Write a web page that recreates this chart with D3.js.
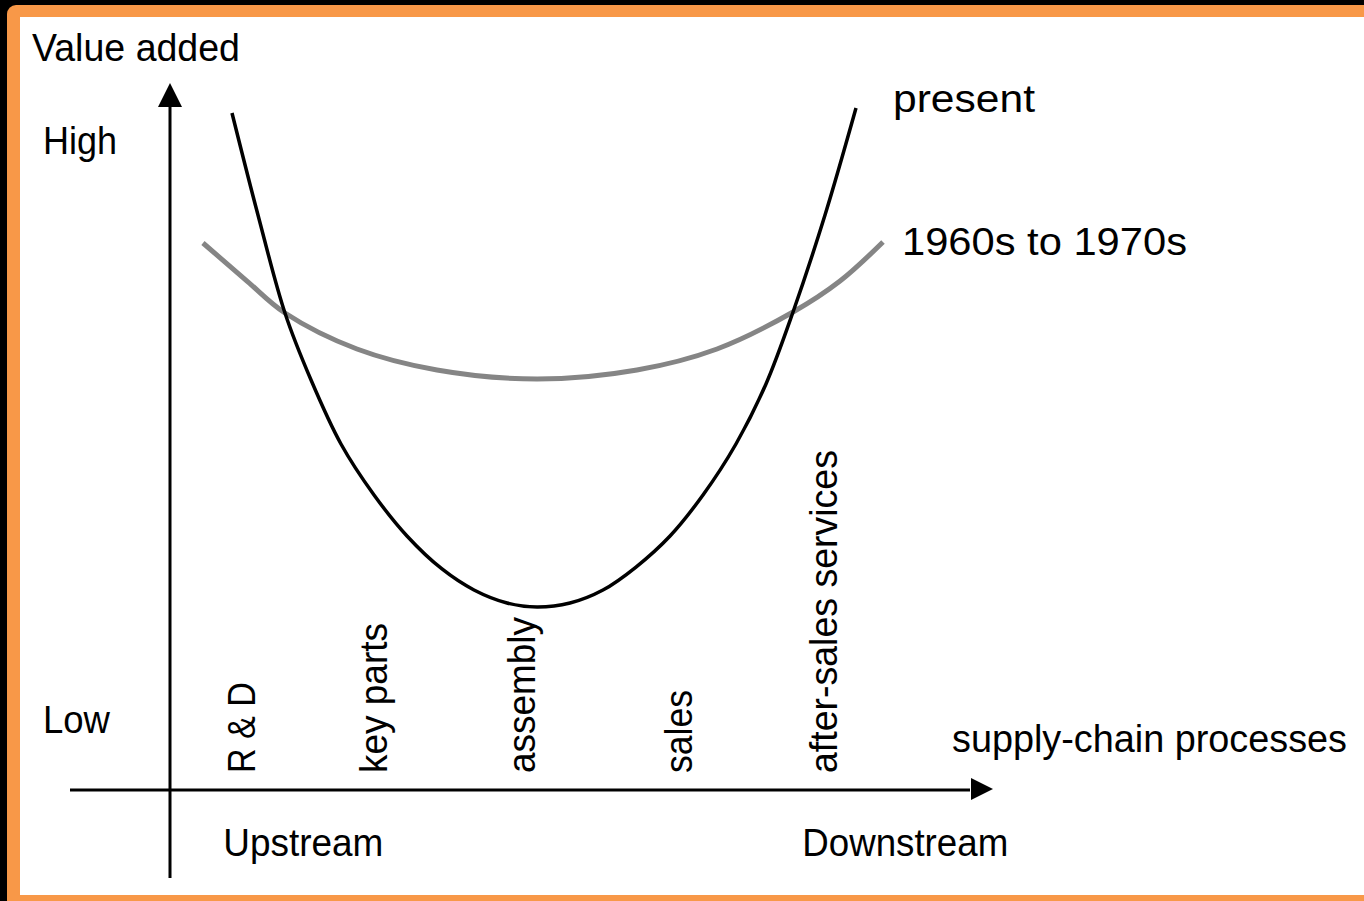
<!DOCTYPE html>
<html lang="en">
<head>
    <meta charset="UTF-8">
    <script src="https://d3js.org/d3.v7.min.js"></script>
    <title>Smile curve - value added along the supply chain</title>
    <style>
        body { margin: 0; background: #000; }
        svg { display: block; }
        text { font-family: "Liberation Sans", Arial, sans-serif; fill: #000; }
    </style>
</head>
<body>
    <figure style="margin:0"></figure>
    <script>
        // data (x: position along the chain 0-100, y: value added 0-100)
        const stages = ["R & D", "key parts", "assembly", "sales", "after-sales services"];
        const stagePos = [10.4, 26.5, 44.5, 63.7, 81.3];

        const presentX = [7.56, 10.73, 14.02, 17.20, 20.85, 24.88, 28.90, 33.17, 37.07, 41.10, 44.76,
                          48.78, 52.80, 56.83, 60.98, 65.00, 69.02, 72.68, 75.98, 79.88, 83.66];
        const presentY = [95.76, 81.33, 67.47, 57.99, 48.94, 41.73, 35.93, 31.26, 28.29, 26.45, 25.88,
                          26.45, 28.29, 31.54, 35.93, 41.73, 48.94, 57.43, 67.61, 81.33, 96.46];

        const pastX = [4.02, 9.39, 14.02, 22.80, 32.56, 44.76, 56.95, 66.71, 75.98, 81.71, 86.95];
        const pastY = [77.37, 71.99, 67.47, 62.38, 59.41, 58.13, 59.41, 62.38, 67.61, 71.99, 77.51];

        const seriesNames = ["present", "1960s to 1970s"];
        const levelLabels = ["High", "Low"];
        const levelValues = [89.9, 8.1];
        const streamLabels = ["Upstream", "Downstream"];
        const streamPos = [6.5, 77.1];

        //declare variables
        const w = 1364;
        const h = 901;

        const xScale = d3.scaleLinear().domain([0, 100]).range([170, 990]);
        const yScale = d3.scaleLinear().domain([0, 100]).range([790, 83]);

        const graph = d3.select("figure")
            .append("svg")
            .attr("width", w)
            .attr("height", h);

        //frame: black edge, orange border, white panel
        graph.append("rect").attr("width", w).attr("height", h).attr("fill", "#000");
        graph.append("rect")
            .attr("x", 7).attr("y", 5)
            .attr("width", w + 20).attr("height", h + 20)
            .attr("rx", 9)
            .attr("fill", "#f89848");
        graph.append("rect")
            .attr("x", 20).attr("y", 17)
            .attr("width", w).attr("height", 895 - 17)
            .attr("fill", "#fff");

        //axes
        const ax = graph.append("g").attr("stroke", "#000").attr("stroke-width", 3);
        ax.append("line")
            .attr("x1", xScale(0)).attr("x2", xScale(0))
            .attr("y1", 878).attr("y2", yScale(100) + 20);
        ax.append("line")
            .attr("x1", 70).attr("x2", xScale(100) - 20)
            .attr("y1", yScale(0)).attr("y2", yScale(0));

        graph.append("path")
            .attr("d", `M${xScale(0)},${yScale(100)} l-12,24 l24,0 z`)
            .attr("fill", "#000");
        graph.append("path")
            .attr("d", `M${xScale(100) + 3},${yScale(0) - 1} l-22,-11 l0,22 z`)
            .attr("fill", "#000");

        //curves
        const line = d3.line()
            .x(d => xScale(d[0]))
            .y(d => yScale(d[1]))
            .curve(d3.curveCatmullRom.alpha(0.5));

        const pastData = pastX.map((x, i) => [x, pastY[i]]);
        const presentData = presentX.map((x, i) => [x, presentY[i]]);

        graph.append("path")
            .datum(pastData)
            .attr("d", line)
            .attr("fill", "none")
            .attr("stroke", "#858585")
            .attr("stroke-width", 5);

        graph.append("path")
            .datum(presentData)
            .attr("d", line)
            .attr("fill", "none")
            .attr("stroke", "#000")
            .attr("stroke-width", 3.5);

        //text helper
        function label(t, x, y, len, rot) {
            const el = graph.append("text")
                .attr("x", x)
                .attr("y", y)
                .attr("font-size", 38)
                .attr("textLength", len)
                .attr("lengthAdjust", "spacingAndGlyphs")
                .text(t);
            if (rot) el.attr("transform", `rotate(-90,${x},${y})`);
            return el;
        }

        label("Value added", 32, 61, 208);
        label("supply-chain processes", 952, 752, 395);

        const levelLen = [74, 67];
        levelLabels.forEach((t, i) => label(t, 43, yScale(levelValues[i]), levelLen[i]));

        const streamLen = [160, 206];
        streamLabels.forEach((t, i) => label(t, xScale(streamPos[i]), 856, streamLen[i]));

        //stage labels, rotated
        const stageLen = [91, 150, 156, 83, 323];
        stages.forEach((t, i) => label(t, xScale(stagePos[i]), yScale(2.4), stageLen[i], true));

        //series labels next to curve ends
        const pEnd = presentData[presentData.length - 1];
        const oEnd = pastData[pastData.length - 1];
        label(seriesNames[0], xScale(pEnd[0]) + 37, yScale(pEnd[1]) + 4, 142);
        label(seriesNames[1], xScale(oEnd[0]) + 19, yScale(oEnd[1]) + 13, 285);
    </script>
</body>
</html>
